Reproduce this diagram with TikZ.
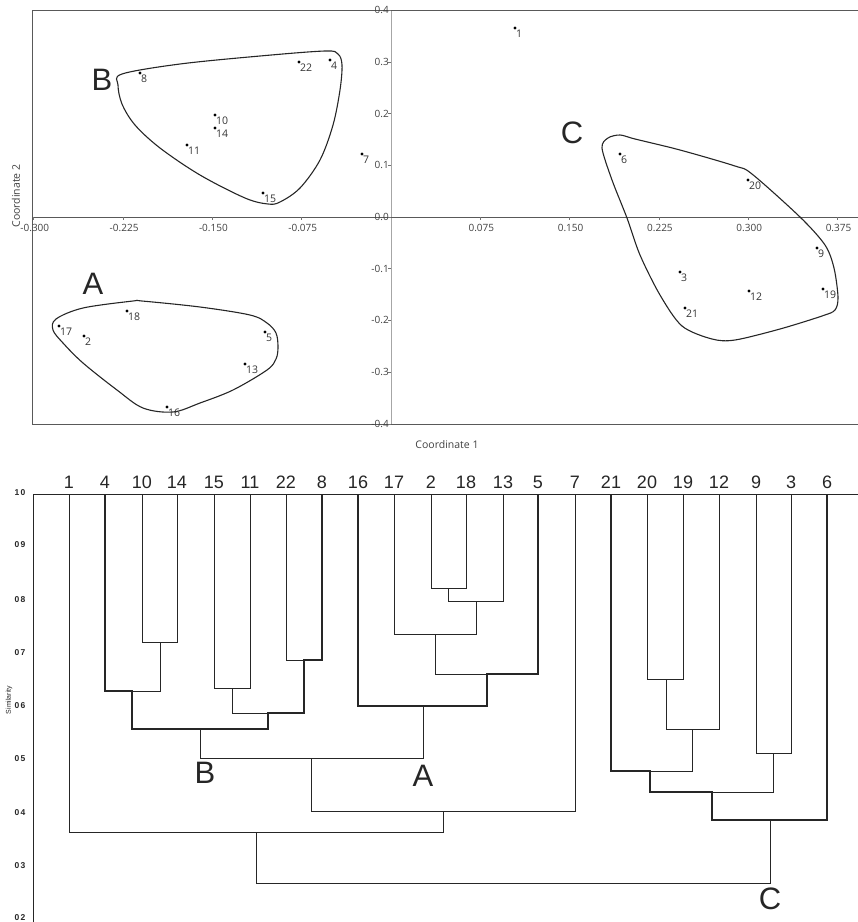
\documentclass[tikz,border=0pt]{standalone}
\usepackage{fontspec}
\setmainfont{Liberation Sans}
\newfontfamily\plotfont{Open Sans}
\begin{document}
\begin{tikzpicture}[x=1pt,y=-1pt,
  dthin/.style={line width=0.9pt, draw=black!85},
  dthick/.style={line width=2.8pt, draw=black!85, line join=miter},
  hull/.style={line width=1.1pt, draw=black!85},
  frame/.style={line width=1pt, draw=black!65},
  ptlabel/.style={font=\plotfont\fontsize{10.5}{11}\selectfont, text=black!80, anchor=north west, inner sep=0pt},
  ticklabel/.style={font=\plotfont\fontsize{10}{11}\selectfont, text=black!75, inner sep=0pt},
  axlabel/.style={font=\plotfont\fontsize{10.5}{11}\selectfont, text=black!75, inner sep=0pt},
  bigletter/.style={font=\fontsize{31}{33}\selectfont, text=black!85, inner sep=0pt},
  leaflabel/.style={font=\fontsize{18}{20}\selectfont, text=black!85, anchor=base, inner sep=0pt},
  simlabel/.style={font=\bfseries\fontsize{8.5}{9}\selectfont, text=black!85, inner sep=0pt}]
\useasboundingbox (0,0) rectangle (858,922);
% ---------------- top scatter plot ----------------
\draw[line width=1pt, draw=black!35] (391,10) -- (391,424);
\draw[frame] (858,10) -- (32,10) -- (32,424) -- (858,424);
\draw[frame] (32,217) -- (858,217);
\foreach \v/\t in {-0.300/-0.300,-0.225/-0.225,-0.150/-0.150,-0.075/-0.075,0.075/0.075,0.150/0.150,0.225/0.225,0.300/0.300,0.375/0.375} {
  \draw[line width=0.6pt, draw=black!55] ({391+1190.7*\v},217) -- ({391+1190.7*\v},220);
  \node[ticklabel] (xt\t) at ({391+1190.7*\v+1},228) {\t};
}
\foreach \v/\t in {0.4/0.4,0.3/0.3,0.2/0.2,0.1/0.1,0.0/0.0,-0.1/-0.1,-0.2/-0.2,-0.3/-0.3,-0.4/-0.4} {
  \draw[line width=0.6pt, draw=black!55] (388,{217-517*\v}) -- (391,{217-517*\v});
  \node[ticklabel, anchor=east] (yt\t) at (389,{217-517*\v}) {\t};
}
\node[axlabel] (xlab) at (447,445) {Coordinate 1};
\node[axlabel, rotate=90] (ylab) at (16,196) {Coordinate 2};
% hulls
\draw[hull] plot[smooth cycle, tension=0.55] coordinates {(122,74) (180,64) (260,56) (325,51) (338,54) (342,65) (340,90) (333,125) (320,160) (300,188) (280,202) (268,204) (245,198) (200,175) (160,148) (135,125) (122,104) (118,85)};
\draw[hull] plot[smooth cycle, tension=0.55] coordinates {(56,319) (83,308) (133,301) (142,301) (200,307) (250,315) (267,323) (276,333) (278,347) (276,359) (267,370) (233,390) (200,403) (173,412) (143,408) (117,390) (83,363) (63,343) (53,330)};
\draw[hull] plot[smooth cycle, tension=0.5] coordinates {(602,148) (608,138) (620,135) (635,139) (680,150) (735,166) (752,174) (800,217) (825,245) (834,268) (838,297) (835,310) (822,316) (780,329) (735,340) (712,339) (682,326) (660,295) (640,255) (627,218) (612,180)};
% points
\foreach \l/\x/\y in {1/515/28, 8/140/73, 22/299/62, 4/330/60, 10/215/115, 14/215/128, 11/187/145, 7/362/154, 15/263/193, 6/620/154, 20/748/180, 9/817/248, 3/680/272, 12/749/291, 19/823/289, 21/685/308, 18/127/311, 17/59/326, 2/84/336, 5/265/332, 13/245/364, 16/167/407} {
  \fill[black] (\x,\y) circle (1.6);
  \node[ptlabel] (p\l) at ({\x+1},{\y+1.5}) {\l};
}
\node[bigletter] (topB) at (102,80) {B};
\node[bigletter] (topA) at (93,284) {A};
\node[bigletter] (topC) at (572,133) {C};
% ---------------- dendrogram ----------------
\draw[dthin] (858,494) -- (33,494) -- (33,922);
\foreach \l/\y in {1\,0/493,0\,9/545,0\,8/600,0\,7/653,0\,6/706,0\,5/759,0\,4/813,0\,3/866,0\,2/918} {
  \node[simlabel] at (20,\y) {\l};
}
\node[font=\fontsize{7}{8}\selectfont, text=black!85, rotate=90, inner sep=0pt] (simi) at (9,700) {Similarity};
\foreach \l/\x in {1/69,4/105,10/142,14/177,15/214,11/250,22/286,8/322,16/358,17/394,2/431,18/466,13/503,5/538,7/575,21/611,20/647,19/683,12/719,9/756,3/791,6/827} {
  \node[leaflabel] (l\l) at (\x,488) {\l};
}
% cluster B
\draw[dthin] (69,494) -- (69,832);
\draw[dthin] (132,691) -- (160,691) -- (160,642);
\draw[dthin] (142,494) -- (142,642) -- (177,642) -- (177,494);
\draw[dthin] (214,494) -- (214,688) -- (250,688) -- (250,494);
\draw[dthin] (232,688) -- (232,713) -- (268,713);
\draw[dthin] (286,494) -- (286,660) -- (304,660);
\draw[dthick] (105,494) -- (105,691) -- (132,691) -- (132,729) -- (268,729) -- (268,713) -- (304,713) -- (304,660) -- (322,660) -- (322,494);
\draw[dthin] (200,729) -- (200,758) -- (423,758) -- (423,706);
% cluster A
\draw[dthin] (431,494) -- (431,588) -- (466,588) -- (466,494);
\draw[dthin] (448,588) -- (448,601) -- (503,601) -- (503,494);
\draw[dthin] (394,494) -- (394,634) -- (476,634) -- (476,601);
\draw[dthin] (435,634) -- (435,674) -- (487,674);
\draw[dthick] (358,494) -- (358,706) -- (487,706) -- (487,674) -- (538,674) -- (538,494);
% upper joins
\draw[dthin] (311,758) -- (311,811) -- (575,811) -- (575,494);
\draw[dthin] (443,811) -- (443,832) -- (69,832);
\draw[dthin] (256,832) -- (256,883) -- (770,883) -- (770,820);
% cluster C
\draw[dthin] (647,494) -- (647,679) -- (683,679) -- (683,494);
\draw[dthin] (666,679) -- (666,729) -- (719,729) -- (719,494);
\draw[dthin] (692,729) -- (692,771) -- (650,771);
\draw[dthin] (756,494) -- (756,753) -- (791,753) -- (791,494);
\draw[dthin] (773,753) -- (773,792) -- (712,792);
\draw[dthick] (611,494) -- (611,771) -- (650,771) -- (650,792) -- (712,792) -- (712,820) -- (827,820) -- (827,494);
\node[bigletter] (denB) at (205,773) {B};
\node[bigletter] (denA) at (423,776) {A};
\node[bigletter] (denC) at (770,899) {C};
\end{tikzpicture}
\end{document}
